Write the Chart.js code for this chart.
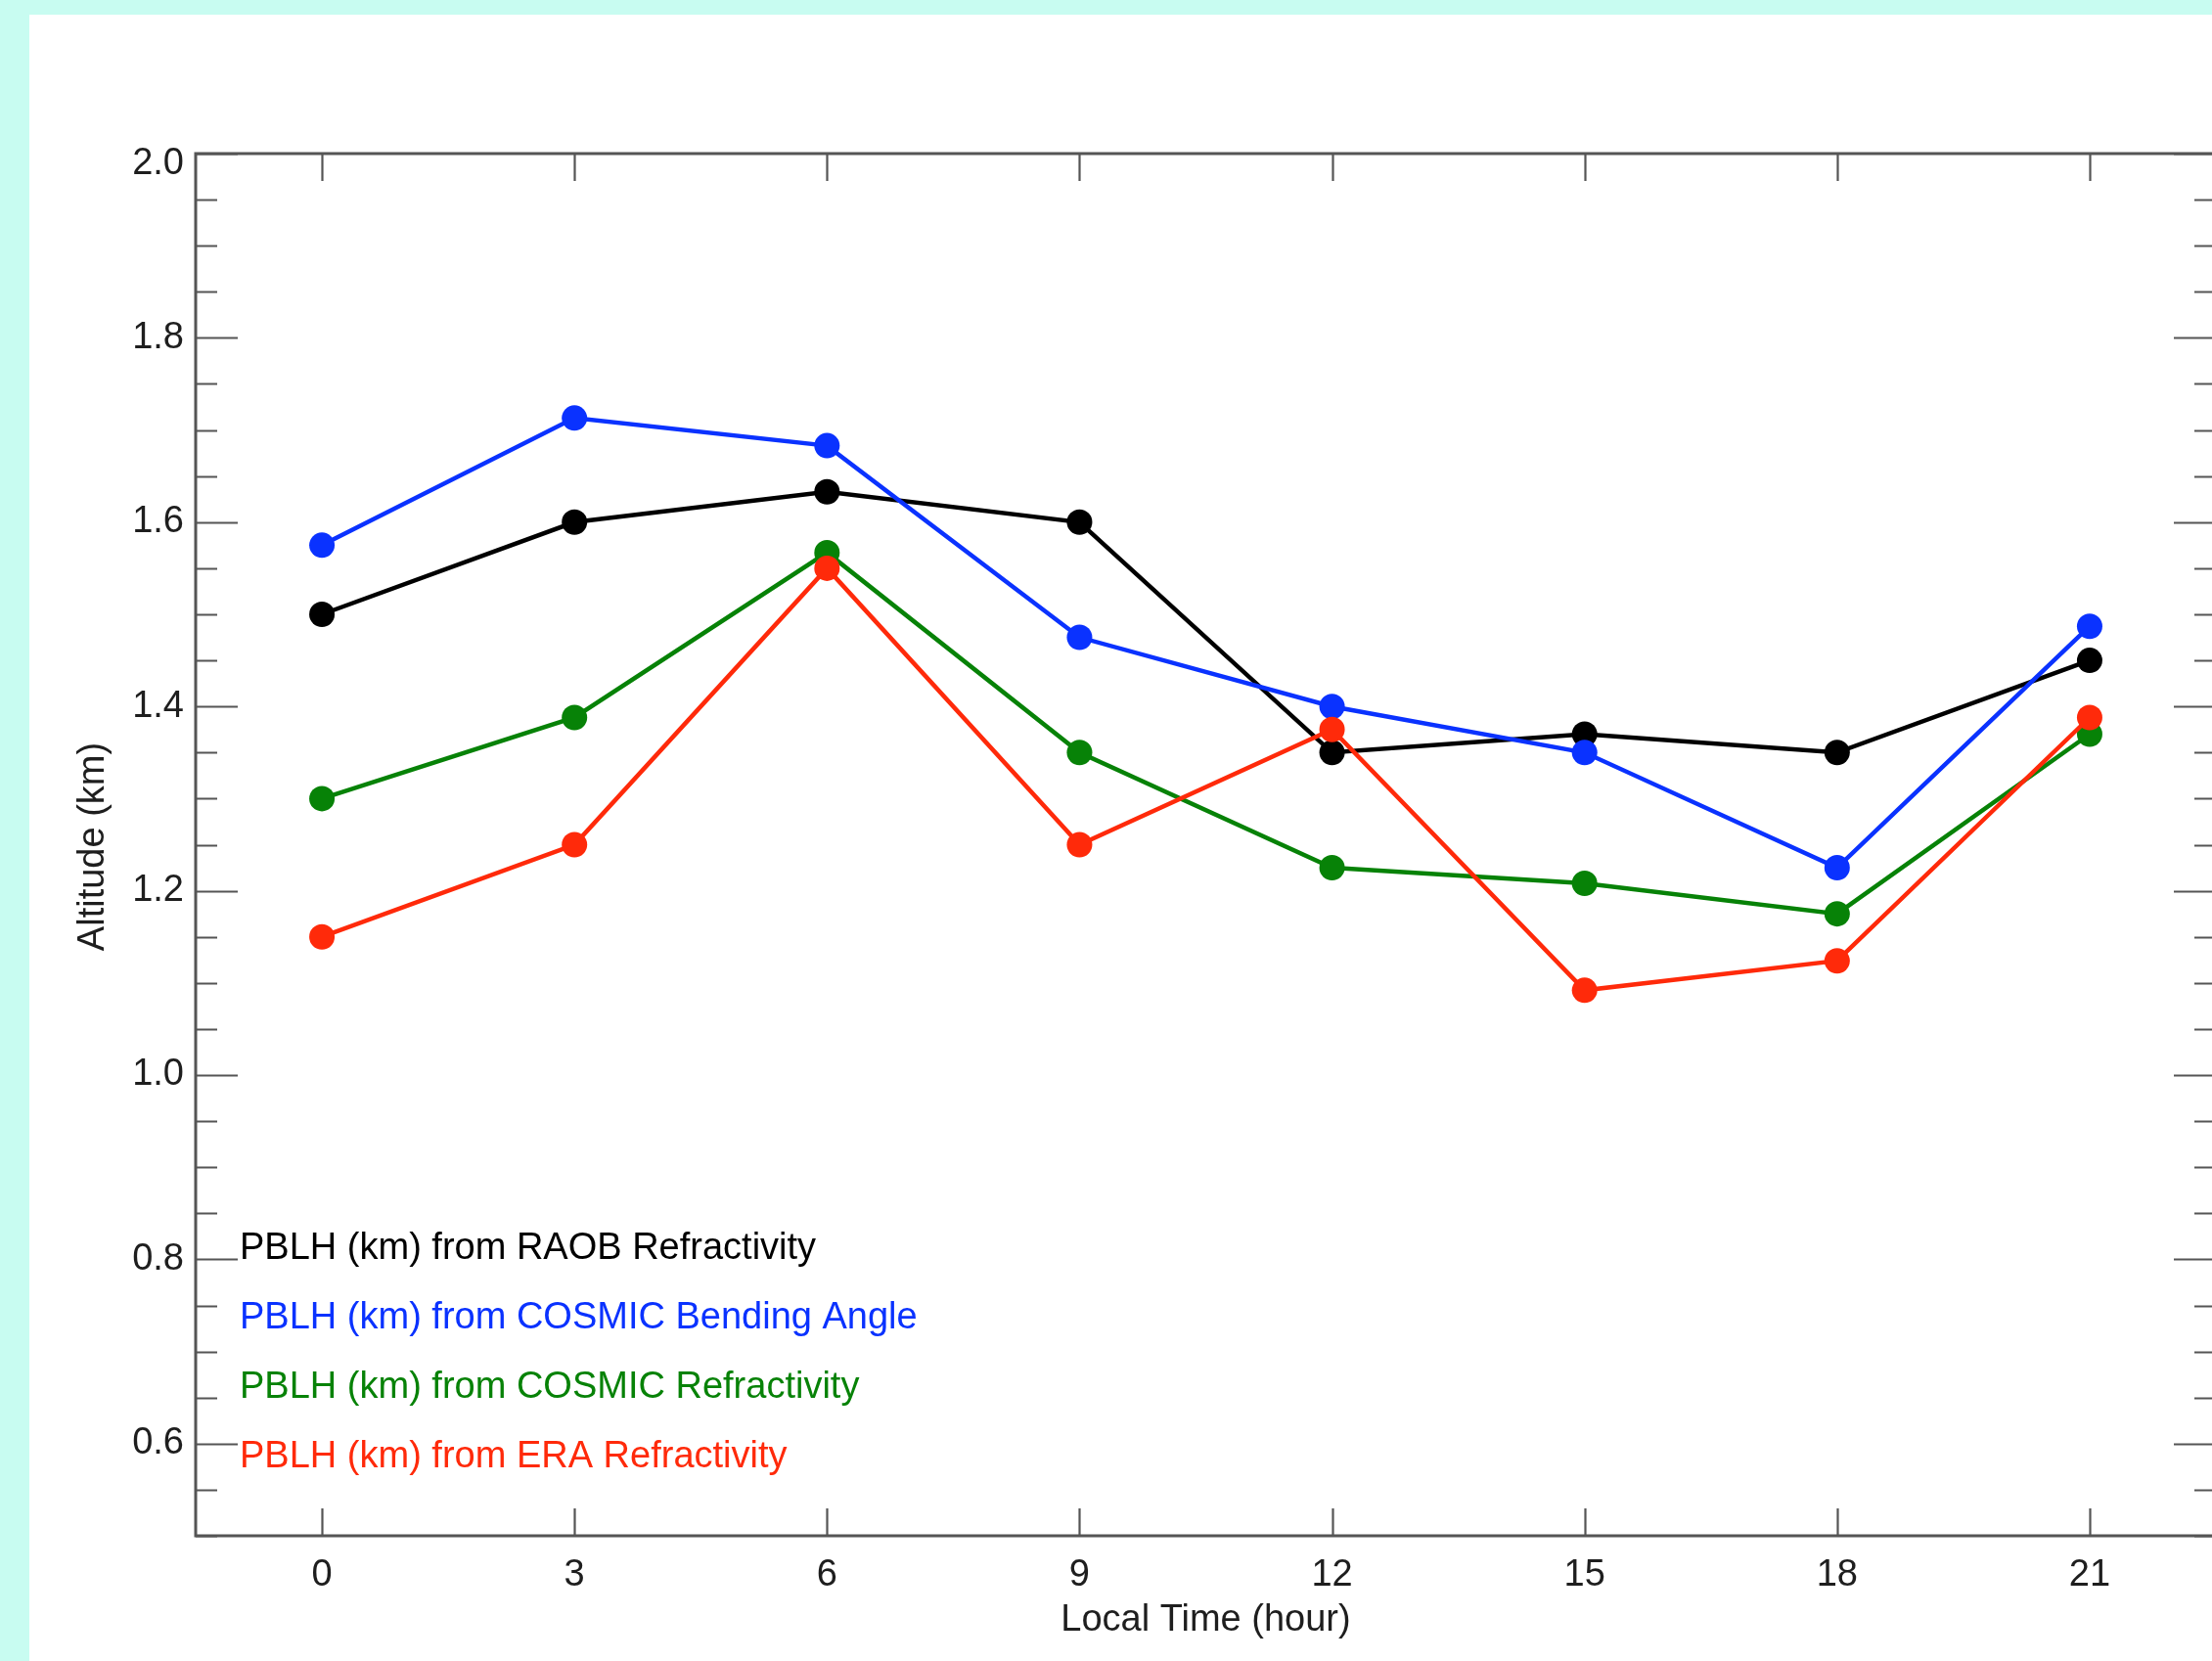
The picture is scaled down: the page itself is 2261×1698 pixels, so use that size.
<!DOCTYPE html>
<html>
<head>
<meta charset="utf-8">
<title>PBLH diurnal cycle</title>
<script src="https://cdn.jsdelivr.net/npm/chart.js@4.4.1/dist/chart.umd.min.js"></script>
<style>
  html, body { margin: 0; padding: 0; overflow: hidden; background: #c8fcf1; width: 2261px; height: 1698px; }
  #panel { position: absolute; left: 30px; top: 15px; width: 2300px; height: 1700px; background: #ffffff; }
  #wrap { position: absolute; left: 0; top: 0; width: 2300px; height: 1698px; }
</style>
</head>
<body>
<div id="panel"></div>
<div id="wrap"><canvas id="chart" width="2300" height="1698"></canvas></div>
<script>
// Local time of day (hours)
const hours = [0, 3, 6, 9, 12, 15, 18, 21];

// PBLH (km) per source
const raobRefractivity   = [1.500, 1.600, 1.633, 1.600, 1.350, 1.370, 1.350, 1.450];
const cosmicBendingAngle = [1.575, 1.713, 1.683, 1.475, 1.400, 1.350, 1.225, 1.487];
const cosmicRefractivity = [1.300, 1.388, 1.567, 1.350, 1.225, 1.208, 1.175, 1.370];
const eraRefractivity    = [1.150, 1.250, 1.550, 1.250, 1.375, 1.092, 1.124, 1.388];

const seriesLabels = [
  'PBLH (km) from RAOB Refractivity',
  'PBLH (km) from COSMIC Bending Angle',
  'PBLH (km) from COSMIC Refractivity',
  'PBLH (km) from ERA Refractivity'
];
const seriesColors = ['#000000', '#0a32ff', '#078207', '#ff2a0a'];

// Axis ticks
const xTickValues = [0, 3, 6, 9, 12, 15, 18, 21];
const yTickValues = [0.6, 0.8, 1.0, 1.2, 1.4, 1.6, 1.8, 2.0];
const yMinorStep = 0.05;

const xTitle = 'Local Time (hour)';
const yTitle = 'Altitude (km)';

const FONT = '"Liberation Sans", Arial, Helvetica, sans-serif';
const TEXT_COLOR = '#1e1e1e';
const AXIS_COLOR = '#555555';

function toPoints(values) {
  return hours.map((h, i) => ({ x: h, y: values[i] }));
}

const allSeries = [raobRefractivity, cosmicBendingAngle, cosmicRefractivity, eraRefractivity];
const datasets = allSeries.map((vals, i) => ({
  label: seriesLabels[i],
  data: toPoints(vals),
  borderColor: seriesColors[i],
  backgroundColor: seriesColors[i],
  pointBackgroundColor: seriesColors[i],
  pointBorderWidth: 0,
  pointRadius: 13,
  borderWidth: 4.5,
  tension: 0,
  order: allSeries.length - 1 - i   // later sources drawn on top
}));

const yTop = yTickValues[yTickValues.length - 1];

// Box axes with inward ticks on all four sides, minor ticks on the y axes
const frameAxes = {
  id: 'frameAxes',
  beforeDatasetsDraw(chart) {
    const { ctx, chartArea: a, scales } = chart;
    const xs = scales.x, ys = scales.y;
    ctx.save();
    ctx.strokeStyle = AXIS_COLOR;
    ctx.lineWidth = 3;
    ctx.beginPath();
    ctx.rect(a.left, a.top, a.right - a.left, a.bottom - a.top);
    ctx.stroke();

    ctx.lineWidth = 2.2;
    ctx.beginPath();
    xTickValues.forEach(v => {
      const px = Math.round(xs.getPixelForValue(v)) + 0.5;
      ctx.moveTo(px, a.bottom); ctx.lineTo(px, a.bottom - 28);
      ctx.moveTo(px, a.top);    ctx.lineTo(px, a.top + 28);
    });
    const steps = Math.round((ys.max - ys.min) / yMinorStep);
    for (let k = 0; k <= steps; k++) {
      const v = ys.min + k * yMinorStep;
      const major = yTickValues.some(t => Math.abs(t - v) < 1e-6);
      const len = major ? 43 : 22;
      const py = Math.round(ys.getPixelForValue(v)) + 0.5;
      ctx.moveTo(a.left, py);  ctx.lineTo(a.left + len, py);
      ctx.moveTo(a.right, py); ctx.lineTo(a.right - len, py);
    }
    ctx.stroke();

    // topmost y label sits just below its tick so it stays clear of the frame
    ctx.fillStyle = TEXT_COLOR;
    ctx.font = '38px ' + FONT;
    ctx.textAlign = 'right';
    ctx.textBaseline = 'middle';
    ctx.fillText(yTop.toFixed(1), a.left - 12, ys.getPixelForValue(yTop) + 11);
    ctx.restore();
  },
  afterDraw(chart) {
    const { ctx, chartArea: a } = chart;
    ctx.save();
    // axis titles
    ctx.fillStyle = TEXT_COLOR;
    ctx.font = '38px ' + FONT;
    ctx.textAlign = 'center';
    ctx.textBaseline = 'middle';
    ctx.fillText(xTitle, (a.left + a.right) / 2, 1657);
    ctx.translate(96, (a.top + a.bottom) / 2 + 2);
    ctx.rotate(-Math.PI / 2);
    ctx.fillText(yTitle, 0, 0);
    ctx.restore();

    // legend: coloured text inside the plot, lower left
    ctx.save();
    ctx.font = '38px ' + FONT;
    ctx.textAlign = 'left';
    ctx.textBaseline = 'alphabetic';
    seriesLabels.forEach((lab, i) => {
      ctx.fillStyle = seriesColors[i];
      ctx.fillText(lab, a.left + 45, a.top + 1130 + i * 71);
    });
    ctx.restore();
  }
};

new Chart(document.getElementById('chart'), {
  type: 'line',
  data: { datasets },
  options: {
    responsive: false,
    animation: false,
    devicePixelRatio: 1,
    layout: { padding: { top: 157, right: 35, left: 0, bottom: 0 } },
    plugins: { legend: { display: false }, tooltip: { enabled: false } },
    events: [],
    scales: {
      x: {
        type: 'linear',
        min: -1.5,
        max: 22.5,
        afterBuildTicks: s => { s.ticks = xTickValues.map(v => ({ value: v })); },
        afterFit: s => { s.height = 128; },
        grid: { display: false, drawTicks: false },
        border: { display: false },
        ticks: {
          color: TEXT_COLOR,
          font: { family: FONT, size: 38 },
          padding: 18,
          maxRotation: 0,
          autoSkip: false
        }
      },
      y: {
        type: 'linear',
        min: 0.5,
        max: 2.0,
        afterBuildTicks: s => { s.ticks = yTickValues.map(v => ({ value: v })); },
        afterFit: s => { s.width = 200; },
        grid: { display: false, drawTicks: false },
        border: { display: false },
        ticks: {
          color: TEXT_COLOR,
          font: { family: FONT, size: 38 },
          padding: 12,
          autoSkip: false,
          callback: v => (Math.abs(v - yTop) < 1e-9 ? '' : v.toFixed(1))
        }
      }
    }
  },
  plugins: [frameAxes]
});
</script>
</body>
</html>
